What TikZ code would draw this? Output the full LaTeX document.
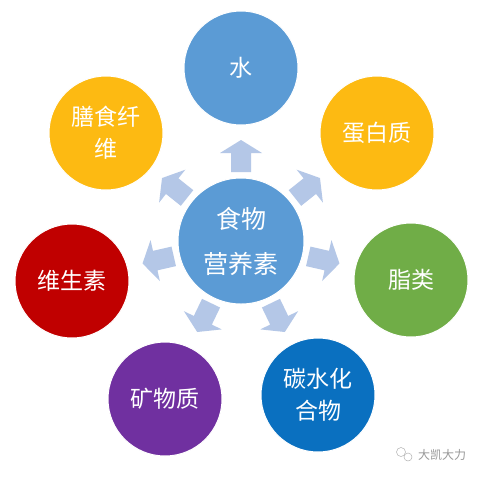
\documentclass[tikz,border=0pt]{standalone}
\usepackage{fontspec}
\newfontfamily\cjk{Noto Sans CJK SC}
\definecolor{cblue}{HTML}{5B9BD5}
\definecolor{cgold}{HTML}{FDBA12}
\definecolor{cgreen}{HTML}{70AD47}
\definecolor{cdblue}{HTML}{0A70C0}
\definecolor{cpurple}{HTML}{7030A0}
\definecolor{cred}{HTML}{C00000}
\definecolor{carrow}{HTML}{B4C7E7}
\begin{document}
\begin{tikzpicture}[x=1pt,y=-1pt,
  outer/.style={circle,minimum size=114pt,inner sep=0pt,draw=white,line width=1pt,
    text=white,align=center,font=\cjk\fontsize{23}{32}\selectfont},
  hub/.style={circle,minimum size=126pt,inner sep=0pt,fill=cblue,draw=white,line width=1pt,
    text=white,align=center,font=\cjk\fontsize{25}{45}\selectfont},
  blockarrow/.style={fill=carrow,draw=none}]
\useasboundingbox (0,0) rectangle (481,480);
\fill[white] (0,0) rectangle (481,480);
% arrows
\foreach \a in {90,38.57,-12.86,-64.29,-115.71,-167.14,141.43}{
  \begin{scope}[shift={(241,241)},rotate=\a]
    \fill[blockarrow] (69,-10) -- (88,-10) -- (88,-21) -- (101,0) -- (88,21) -- (88,10) -- (69,10) -- cycle;
  \end{scope}
}
\node[hub] (hub) at (241,241) {食物\\营养素};
\node[outer,fill=cblue] (water) at (241,68) {水};
\node[outer,fill=cgold] (protein) at (377,133) {蛋白质};
\node[outer,fill=cgreen] (fat) at (411,280) {脂类};
\node[outer,fill=cdblue] (carb) at (318,395) {碳水化\\合物};
\node[outer,fill=cpurple] (mineral) at (165,399) {矿物质};
\node[outer,fill=cred] (vitamin) at (72,281) {维生素};
\node[outer,fill=cgold] (fiber) at (106,133) {膳食纤\\维};
% watermark
\node[circle,draw=gray!60,line width=0.5pt,minimum size=9pt,inner sep=0pt] (wm1) at (401,452) {};
\node[circle,draw=gray!60,line width=0.5pt,minimum size=8pt,inner sep=0pt] (wm2) at (408,457) {};
\node[text=gray!80,font=\cjk\fontsize{12}{14}\selectfont] (wmt) at (442,455) {大凯大力};
\end{tikzpicture}
\end{document}
